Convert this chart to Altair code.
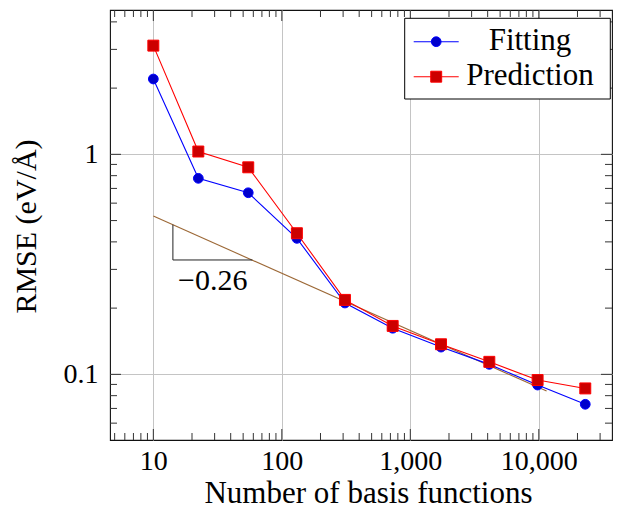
import altair as alt
import pandas as pd

# ---------------- data ----------------
basis_functions = [10, 22.4, 54.8, 131, 310, 729, 1734, 4121, 9790, 23000]
rmse_fitting = [2.20, 0.778, 0.669, 0.415, 0.211, 0.162, 0.133, 0.111, 0.0894, 0.0731]
rmse_prediction = [3.12, 1.03, 0.873, 0.438, 0.218, 0.166, 0.137, 0.114, 0.0942, 0.0863]
series_names = ["Fitting", "Prediction"]

trend_x = [10, 11500]
trend_y = [0.524, 0.0839]
slope_x = [14.2, 14.2, 59]
slope_y = [0.479, 0.331, 0.331]
slope_label = ["−0.26"]
slope_label_x = [29]
slope_label_y = [0.242]

x_major = [10, 100, 1000, 10000]
x_minor = [5, 6, 7, 8, 9, 20, 30, 40, 50, 60, 70, 80, 90,
           200, 300, 400, 500, 600, 700, 800, 900,
           2000, 3000, 4000, 5000, 6000, 7000, 8000, 9000,
           20000, 30000]
y_major = [0.1, 1]
y_minor = [0.06, 0.07, 0.08, 0.09, 0.2, 0.3, 0.4, 0.5, 0.6, 0.7, 0.8, 0.9, 2, 3, 4]
x_domain = [4.6, 37130]
y_domain = [0.0503, 4.53]

x_title = "Number of basis functions"
y_title = "RMSE (eV/Å)"

# ---------------- styling ----------------
W, H = 502, 430
FONT = "'Liberation Serif', 'Times New Roman', 'DejaVu Serif', serif"
MAJ, MIN = 11, 7
BLUE, BLUE_FILL = "#0000ff", "#0000cc"
RED, RED_FILL = "#ff0000", "#cc0000"
BROWN = "#9c6836"

xs = alt.Scale(type="log", domain=x_domain, nice=False, zero=False)
ys = alt.Scale(type="log", domain=y_domain, nice=False, zero=False)
xaxis = alt.Axis(values=x_major, format=",d", grid=True, ticks=False, tickSize=0,
                 domain=False, labelPadding=29, labelBaseline="alphabetic",
                 labelOverlap=False, labelFlush=False,
                 title=x_title, titleX=258, titleY=62, titleAlign="center",
                 titleBaseline="alphabetic", titleFontSize=31)
yaxis = alt.Axis(values=y_major, format="~g", grid=True, ticks=False, tickSize=0,
                 domain=False, labelPadding=12, labelOverlap=False, labelFlush=False,
                 title=y_title, titleAngle=270, titleX=-75, titleY=216,
                 titleAlign="center", titleBaseline="alphabetic", titleFontSize=30)
X = alt.X("x:Q", scale=xs, axis=xaxis)
Y = alt.Y("y:Q", scale=ys, axis=yaxis)

fit_df = pd.DataFrame({"x": basis_functions, "y": rmse_fitting})
pred_df = pd.DataFrame({"x": basis_functions, "y": rmse_prediction})
trend_df = pd.DataFrame({"x": trend_x, "y": trend_y})
slope_df = pd.DataFrame({"x": slope_x, "y": slope_y, "i": list(range(len(slope_x)))})
slope_lbl_df = pd.DataFrame({"x": slope_label_x, "y": slope_label_y, "label": slope_label})

layers = []

# trend line and slope triangle
layers.append(alt.Chart(trend_df).mark_line(color=BROWN, strokeWidth=1.1).encode(x=X, y=Y))
layers.append(alt.Chart(slope_df).mark_line(color="#222222", strokeWidth=1).encode(
    x=X, y=Y, order="i:Q"))
layers.append(alt.Chart(slope_lbl_df).mark_text(font=FONT, fontSize=30, align="center",
                                                baseline="alphabetic", color="black").encode(
    x=X, y=Y, text="label:N"))

# series
layers.append(alt.Chart(fit_df).mark_line(color=BLUE, strokeWidth=1.1).encode(x=X, y=Y))
layers.append(alt.Chart(fit_df).mark_point(shape="circle", filled=True, fill=BLUE_FILL,
                                           stroke=BLUE, strokeWidth=1, size=95,
                                           opacity=1).encode(x=X, y=Y))
layers.append(alt.Chart(pred_df).mark_line(color=RED, strokeWidth=1.1).encode(x=X, y=Y))
layers.append(alt.Chart(pred_df).mark_point(shape="square", filled=True, fill=RED_FILL,
                                            stroke=RED, strokeWidth=1, size=120,
                                            opacity=1).encode(x=X, y=Y))

# inner tick marks on all four sides
for vals, L in ((x_major, MAJ), (x_minor, MIN)):
    d = pd.DataFrame({"x": vals})
    layers.append(alt.Chart(d).mark_rule(color="#333333", strokeWidth=1).encode(
        x=X, y=alt.value(H), y2=alt.value(H - L)))
    layers.append(alt.Chart(d).mark_rule(color="#333333", strokeWidth=1).encode(
        x=X, y=alt.value(0), y2=alt.value(L)))
for vals, L in ((y_major, MAJ), (y_minor, MIN)):
    d = pd.DataFrame({"y": vals})
    layers.append(alt.Chart(d).mark_rule(color="#333333", strokeWidth=1).encode(
        y=Y, x=alt.value(0), x2=alt.value(L)))
    layers.append(alt.Chart(d).mark_rule(color="#333333", strokeWidth=1).encode(
        y=Y, x=alt.value(W), x2=alt.value(W - L)))

# legend (drawn by hand to match the pgfplots style)
leg_df = pd.DataFrame({"label": series_names})
layers.append(alt.Chart(leg_df.iloc[[0]]).mark_rect(fill="white", stroke="black",
                                                    strokeWidth=1).encode(
    x=alt.value(294.7), x2=alt.value(500.3), y=alt.value(8.3), y2=alt.value(89)))
entries = [
    (0, 31.7, 40, BLUE, BLUE_FILL, "circle", 95),
    (1, 66.7, 75, RED, RED_FILL, "square", 120),
]
for idx, ly, ty, c, f, shp, sz in entries:
    row = leg_df.iloc[[idx]]
    layers.append(alt.Chart(row).mark_rule(color=c, strokeWidth=1.1).encode(
        x=alt.value(303.7), x2=alt.value(348.7), y=alt.value(ly)))
    layers.append(alt.Chart(row).mark_point(shape=shp, filled=True, fill=f, stroke=c,
                                            strokeWidth=1, size=sz, opacity=1).encode(
        x=alt.value(326.2), y=alt.value(ly)))
    layers.append(alt.Chart(row).mark_text(font=FONT, fontSize=31, align="center",
                                           baseline="alphabetic", color="black").encode(
        x=alt.value(420), y=alt.value(ty), text="label:N"))

chart = alt.layer(*layers).properties(
    width=W, height=H,
    autosize=alt.AutoSizeParams(type="none"),
    padding={"left": 102, "top": 2, "right": 1, "bottom": 69},
).configure(font=FONT, background="white").configure_view(
    stroke="#111111", strokeWidth=1.1
).configure_axis(
    gridColor="#c4c4c4", gridWidth=1, gridOpacity=1,
    labelFont=FONT, labelFontSize=28, labelColor="black",
    titleFont=FONT, titleFontWeight="normal", titleColor="black",
)

chart.save("out.html", embed_options={"renderer": "svg", "actions": False})
